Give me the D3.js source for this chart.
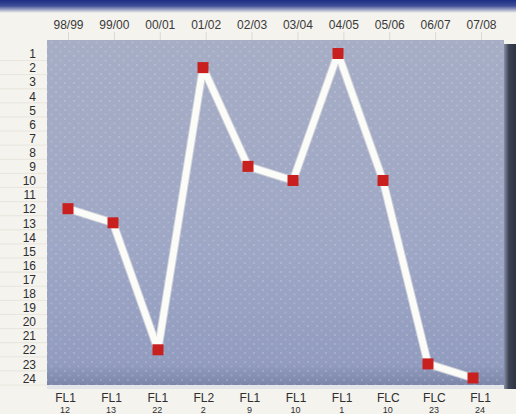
<!DOCTYPE html>
<html><head><meta charset="utf-8">
<script src="https://cdn.jsdelivr.net/npm/d3@7"></script>
<style>html,body{margin:0;padding:0;background:#f4f3ee;overflow:hidden}</style>
</head><body>
<svg id="c" width="516" height="414"></svg>
<script>
const seasons = ["98/99","99/00","00/01","01/02","02/03","03/04","04/05","05/06","06/07","07/08"];
const positions = [12,13,22,2,9,10,1,10,23,24];
const leagues = ["FL1","FL1","FL1","FL2","FL1","FL1","FL1","FLC","FLC","FL1"];
const bottomNumbers = [12,13,22,2,9,10,1,10,23,24];
const rankTicks = d3.range(1,25);

const svg = d3.select("#c");
const W = 516, H = 414;
const defs = svg.append("defs");
const FONT = "Liberation Sans, Arial, sans-serif";

const topG = defs.append("linearGradient").attr("id","topG").attr("x1",0).attr("x2",0).attr("y1",0).attr("y2",1);
topG.append("stop").attr("offset","0%").attr("stop-color","#1d2f86");
topG.append("stop").attr("offset","45%").attr("stop-color","#3f4f98");
topG.append("stop").attr("offset","100%").attr("stop-color","#f4f3ee");

const panelG = defs.append("linearGradient").attr("id","panelG").attr("x1",0).attr("x2",0).attr("y1",0).attr("y2",1);
panelG.append("stop").attr("offset","0%").attr("stop-color","#a6adc5");
panelG.append("stop").attr("offset","60%").attr("stop-color","#9ea7c5");
panelG.append("stop").attr("offset","94%").attr("stop-color","#929cbf");
panelG.append("stop").attr("offset","100%").attr("stop-color","#7c86a8");

const shadowG = defs.append("linearGradient").attr("id","shadowG").attr("x1",0).attr("x2",1).attr("y1",0).attr("y2",0);
shadowG.append("stop").attr("offset","0%").attr("stop-color","#8890a8");
shadowG.append("stop").attr("offset","40%").attr("stop-color","#3d4354");
shadowG.append("stop").attr("offset","100%").attr("stop-color","#2e3340");

const dots = defs.append("pattern").attr("id","dots").attr("width",9).attr("height",9).attr("patternUnits","userSpaceOnUse");
dots.append("circle").attr("cx",2).attr("cy",2).attr("r",1.1).attr("fill","#ffffff").attr("opacity",0.2);
dots.append("circle").attr("cx",6.5).attr("cy",6.5).attr("r",1.1).attr("fill","#ffffff").attr("opacity",0.16);

const x = d3.scalePoint().domain(seasons).range([68, 473]);
const xTop = d3.scalePoint().domain(seasons).range([68, 481]);
const xBot = d3.scalePoint().domain(seasons).range([65, 480]);
const y = d3.scaleLinear().domain([1,24]).range([53.5, 378]);

svg.append("rect").attr("x",0).attr("y",0).attr("width",W).attr("height",13).attr("fill","url(#topG)");

const pL = 47, pT = 40, pR = 504, pB = 385;
svg.append("rect").attr("x",pL).attr("y",pT).attr("width",pR-pL).attr("height",pB-pT).attr("fill","url(#panelG)");
svg.append("rect").attr("x",pL).attr("y",pT).attr("width",pR-pL).attr("height",pB-pT).attr("fill","url(#dots)");
svg.append("rect").attr("x",pR).attr("y",pT+4).attr("width",W-pR).attr("height",pB-pT).attr("fill","url(#shadowG)");
svg.append("rect").attr("x",pL).attr("y",pB).attr("width",pR-pL).attr("height",4).attr("fill","#e4e5ea");

svg.append("g").selectAll("line").data(rankTicks).join("line")
  .attr("x1",0).attr("x2",pL).attr("y1",d=>y(d)+7).attr("y2",d=>y(d)+7)
  .attr("stroke","#e4e2d8").attr("stroke-width",0.8);

const topAxis = svg.append("g").attr("transform","translate(0,32)")
  .call(d3.axisTop(xTop).tickSize(-8).tickPadding(3));
topAxis.select(".domain").remove();
topAxis.selectAll(".tick line").attr("stroke","#dcdad0");
topAxis.selectAll("text").attr("font-family",FONT).attr("font-size",12).attr("fill","#3a3a3a");

const leftAxis = svg.append("g").attr("transform","translate(36,0)")
  .call(d3.axisLeft(y).tickValues(rankTicks).tickFormat(d3.format("d")).tickSize(0).tickPadding(0));
leftAxis.select(".domain").remove();
leftAxis.selectAll("text").attr("font-family",FONT).attr("font-size",12).attr("fill","#2e2e2e").attr("dy","0.35em");

const data = seasons.map((s,i)=>({s, p:positions[i]}));
const line = d3.line().x(d=>x(d.s)).y(d=>y(d.p));
svg.append("path").datum(data).attr("d",line).attr("fill","none")
  .attr("stroke","#cfd1da").attr("stroke-width",8.5).attr("stroke-linejoin","round");
svg.append("path").datum(data).attr("d",line).attr("fill","none")
  .attr("stroke","#fbfbf8").attr("stroke-width",6.5).attr("stroke-linejoin","round");

svg.append("g").selectAll("rect").data(data).join("rect")
  .attr("x",d=>x(d.s)-5.5).attr("y",d=>y(d.p)-5.5).attr("width",11).attr("height",11)
  .attr("fill","#c8201f");

const bot = svg.append("g").attr("transform","translate(0,390)")
  .call(d3.axisBottom(xBot).tickSize(0).tickPadding(3).tickFormat((d,i)=>leagues[i]));
bot.select(".domain").remove();
bot.selectAll("text").attr("font-family",FONT).attr("font-size",12).attr("fill","#2e2e2e");

svg.append("g").selectAll("text").data(seasons).join("text")
  .attr("x",d=>xBot(d)).attr("y",413).attr("text-anchor","middle")
  .attr("font-family",FONT).attr("font-size",9).attr("fill","#2e2e2e")
  .text((d,i)=>bottomNumbers[i]);
</script>
</body></html>
